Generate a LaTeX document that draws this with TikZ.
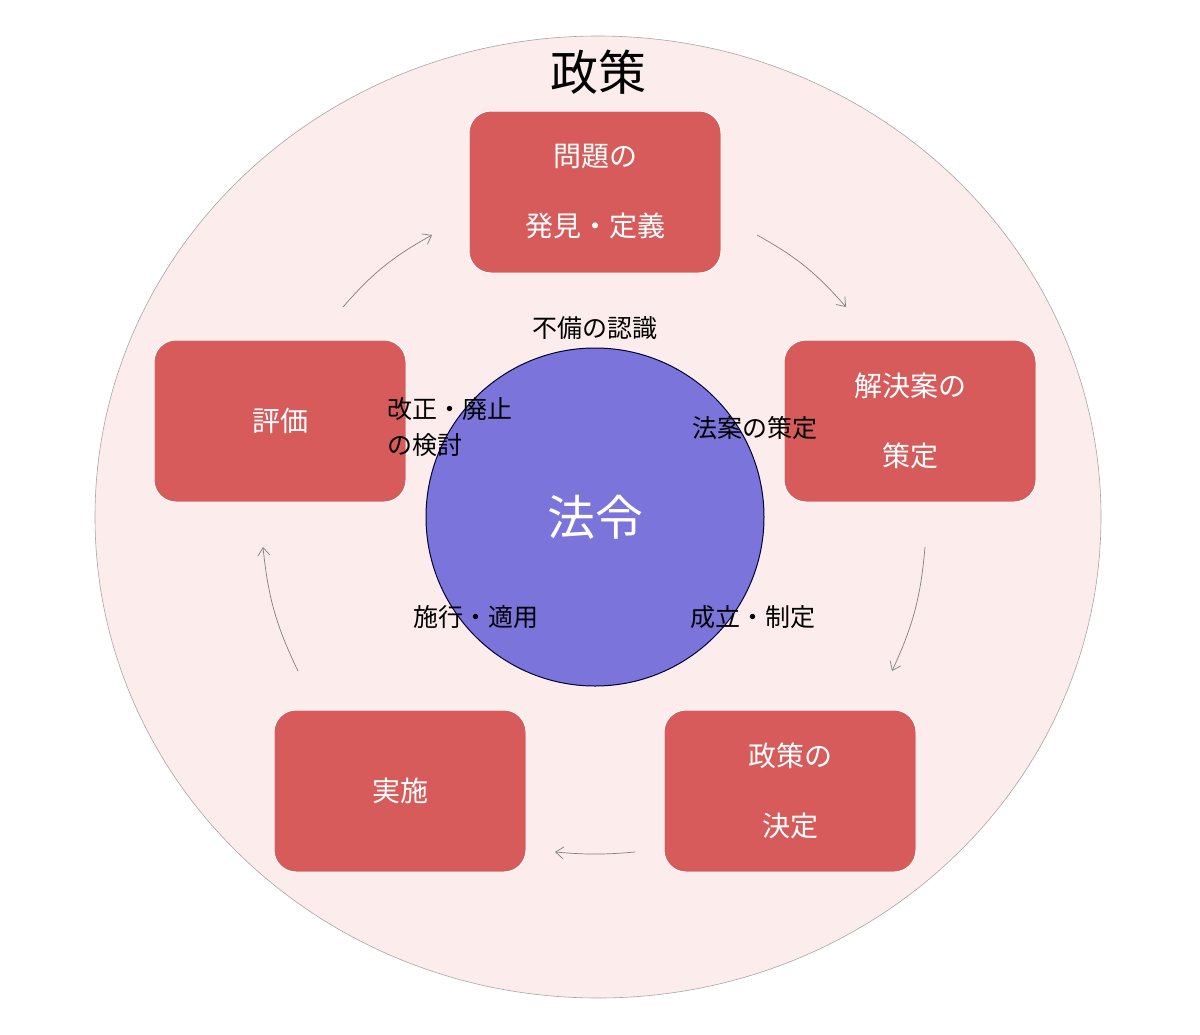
\documentclass[tikz,border=0pt]{standalone}
\usepackage{fontspec}
\setmainfont{Noto Sans CJK JP}
\usetikzlibrary{arrows.meta}
\definecolor{bgpink}{HTML}{FDECEC}
\definecolor{boxred}{HTML}{D75B5B}
\definecolor{lawblue}{HTML}{7B75DB}
\tikzset{
  stepbox/.style={draw=white,line width=1pt,fill=boxred,rounded corners=22pt,minimum width=252pt,minimum height=162pt,text=white,align=center,font=\fontsize{28}{70}\selectfont},
  lbl/.style={font=\fontsize{25}{34}\selectfont,text=black},
  cyc/.style={draw=gray,line width=0.7pt,-{Straight Barb[length=8pt,width=12pt]}}
}
\begin{document}
\begin{tikzpicture}[x=1pt,y=-1pt]
\useasboundingbox (0,0) rectangle (1200,1034);
\draw[gray!70,fill=bgpink,line width=0.6pt] (598,517) ellipse [x radius=503,y radius=481];
\node[font=\fontsize{48}{56}\selectfont] (title) at (598,72) {政策};
\node[circle,draw=black!80!blue,line width=1pt,fill=lawblue,minimum size=338pt,text=white,font=\fontsize{48}{56}\selectfont] (law) at (595,517) {法令};
\node[stepbox] (b1) at (595,192) {問題の\\発見・定義};
\node[stepbox] (b2) at (910,421) {解決案の\\策定};
\node[stepbox] (b3) at (790,791) {政策の\\決定};
\node[stepbox] (b4) at (400,791) {実施};
\node[stepbox] (b5) at (280,421) {評価};
\node[lbl] (l1) at (595,328) {不備の認識};
\node[lbl,anchor=west,align=left,font=\fontsize{25}{36}\selectfont] (l2) at (384,427) {改正・廃止\\の検討};
\node[lbl] (l3) at (755,428) {法案の策定};
\node[lbl] (l4) at (753,617) {成立・制定};
\node[lbl] (l5) at (476,617) {施行・適用};
\coordinate (a1s) at (343,307); \coordinate (a1e) at (432,235);
\coordinate (a2s) at (757,235); \coordinate (a2e) at (846,307);
\coordinate (a3s) at (925,547); \coordinate (a3e) at (892,671);
\coordinate (a4s) at (635,852); \coordinate (a4e) at (555,852);
\coordinate (a5s) at (298,671); \coordinate (a5e) at (263,547);
\draw[cyc] (a1s) to[bend left=10] (a1e);
\draw[cyc] (a2s) to[bend left=10] (a2e);
\draw[cyc] (a3s) to[bend left=10] (a3e);
\draw[cyc] (a4s) to[bend left=5] (a4e);
\draw[cyc] (a5s) to[bend left=10] (a5e);
\end{tikzpicture}
\end{document}
